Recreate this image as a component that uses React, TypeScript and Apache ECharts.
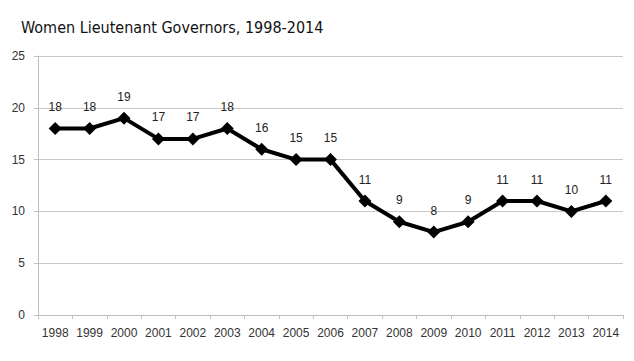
import React, { useEffect, useRef } from "react";
import * as echarts from "echarts";

const years = ["1998","1999","2000","2001","2002","2003","2004","2005","2006","2007","2008","2009","2010","2011","2012","2013","2014"];
const governors = [18, 18, 19, 17, 17, 18, 16, 15, 15, 11, 9, 8, 9, 11, 11, 10, 11];
const titleText = "Women Lieutenant Governors, 1998-2014";

export default function App() {
  const ref = useRef<HTMLDivElement>(null);
  useEffect(() => {
    const chart = echarts.init(ref.current!, undefined, { renderer: "svg" });
    chart.setOption({
      animation: false,
      backgroundColor: "#ffffff",
      title: {
        text: titleText,
        left: 16,
        top: 14,
        textStyle: { fontFamily: "DejaVu Sans Condensed", fontSize: 16, fontWeight: "normal", color: "#111" },
      },
      grid: { left: 38, right: 11, top: 56, bottom: 46 },
      xAxis: {
        type: "category",
        data: years,
        boundaryGap: true,
        axisLine: { lineStyle: { color: "#bfbfbf", width: 1 } },
        axisTick: { show: true, length: 4, interval: 0, lineStyle: { color: "#bfbfbf" } },
        axisLabel: { interval: 0, color: "#333", fontFamily: "Liberation Sans", fontSize: 12, margin: 12 },
      },
      yAxis: {
        type: "value",
        min: 0,
        max: 25,
        interval: 5,
        axisLine: { show: true, lineStyle: { color: "#bfbfbf", width: 1 } },
        axisTick: { show: true, length: 4, lineStyle: { color: "#bfbfbf" } },
        splitLine: { lineStyle: { color: "#c8c8c8", width: 1 } },
        axisLabel: { color: "#333", fontFamily: "Liberation Sans", fontSize: 12, margin: 13 },
      },
      series: [
        {
          type: "line",
          data: governors,
          symbol: "diamond",
          symbolSize: 13,
          lineStyle: { color: "#000", width: 4 },
          itemStyle: { color: "#000" },
          label: {
            show: true,
            position: "top",
            distance: 9,
            color: "#222",
            textBorderWidth: 0,
            textShadowBlur: 0,
            fontFamily: "Liberation Sans",
            fontSize: 12,
          },
        },
      ],
    });
    return () => chart.dispose();
  }, []);
  return <div ref={ref} style={{ width: 634, height: 361, position: "absolute", left: 0, top: 0 }} />;
}
